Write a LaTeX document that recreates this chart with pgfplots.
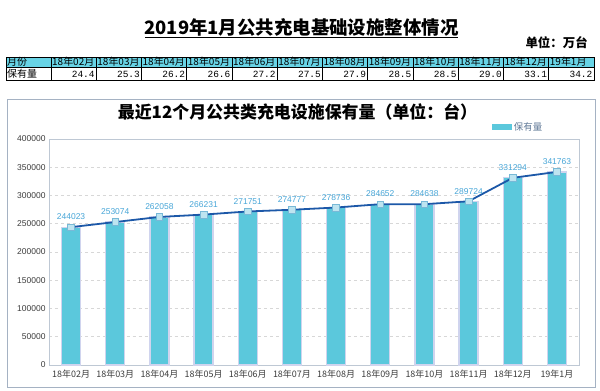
\documentclass[border=0pt]{standalone}
\usepackage{fontspec}
\setmainfont{Liberation Sans}
\newfontfamily\cjk{Noto Sans CJK SC}
\newfontfamily\mono{Liberation Mono}
\usepackage{pgfplots}
\pgfplotsset{compat=1.18}
\usepackage{pgfplotstable}

\definecolor{barcol}{RGB}{91,200,220}
\definecolor{baredge}{RGB}{208,212,238}
\definecolor{linecol}{RGB}{28,88,168}
\definecolor{labcol}{RGB}{70,165,215}
\definecolor{mkfill}{RGB}{190,228,240}
\definecolor{mkdraw}{RGB}{120,185,215}
\definecolor{hdrcol}{RGB}{104,212,230}
\definecolor{panelcol}{RGB}{165,178,195}
\definecolor{gridcol}{RGB}{215,215,215}
\definecolor{axiscol}{RGB}{190,200,212}
\definecolor{ticklab}{RGB}{60,60,60}
\definecolor{legtext}{RGB}{95,120,150}

\pgfplotstableread{
x y label
0 244023 244023
1 253074 253074
2 262058 262058
3 266231 266231
4 271751 271751
5 274777 274777
6 278736 278736
7 284652 284652
8 284638 284638
9 289724 289724
10 331294 331294
11 341763 341763
}\datatab

\begin{document}
\begin{tikzpicture}[x=1bp,y=1bp]
\useasboundingbox (0,0) rectangle (600,390);
% main title
\node[font=\cjk\bfseries\fontsize{18.5}{20}\selectfont, inner sep=0pt] at (301.5,363) {2019年1月公共充电基础设施整体情况};
\draw[line width=1.2bp] (145,352.5) -- (458,352.5);
\node[anchor=east, inner sep=0pt, font=\cjk\bfseries\fontsize{12.5}{14}\selectfont] at (588,347) {单位：万台};
% table
\fill[hdrcol] (6,322.5) rectangle (594,333);
\draw[line width=0.6bp] (6,309.5) rectangle (594,333);
\draw[line width=0.6bp] (6,322.5) -- (594,322.5);
\draw[line width=0.6bp] (51,309.5) -- (51,333);
\node[anchor=west, inner sep=1bp, font=\cjk\fontsize{10}{11}\selectfont] at (6,328) {月份};
\node[anchor=west, inner sep=1bp, font=\cjk\fontsize{10}{11}\selectfont] at (6,316) {保有量};
\foreach \i/\m/\v in {0/18年02月/24.4, 1/18年03月/25.3, 2/18年04月/26.2, 3/18年05月/26.6, 4/18年06月/27.2, 5/18年07月/27.5, 6/18年08月/27.9, 7/18年09月/28.5, 8/18年10月/28.5, 9/18年11月/29.0, 10/18年12月/33.1, 11/19年1月/34.2} {
  \pgfmathsetmacro\xl{51+\i*45.25}
  \pgfmathsetmacro\xr{51+(\i+1)*45.25}
  \draw[line width=0.6bp] (\xr,309.5) -- (\xr,333);
  \node[anchor=west, inner sep=1bp, font=\cjk\fontsize{10}{11}\selectfont] at (\xl,328) {\m};
  \node[anchor=east, inner sep=1.5bp, font=\mono\fontsize{9.5}{10}\selectfont] at (\xr,316) {\v};
}
% chart panel
\draw[panelcol, line width=1bp] (7,3) rectangle (595,291);
\node[font=\cjk\bfseries\fontsize{17}{19}\selectfont, inner sep=0pt] at (297.5,278) {最近12个月公共类充电设施保有量（单位：台）};
\begin{axis}[
  at={(49bp,25bp)}, anchor=south west,
  scale only axis, width=530bp, height=226bp,
  xmin=-0.5, xmax=11.5, ymin=0, ymax=400000,
  xtick={0,...,11},
  xticklabels={18年02月,18年03月,18年04月,18年05月,18年06月,18年07月,18年08月,18年09月,18年10月,18年11月,18年12月,19年1月},
  ytick={0,50000,...,400000},
  scaled y ticks=false,
  /pgf/number format/assume math mode=true,
  yticklabel style={/pgf/number format/fixed, /pgf/number format/1000 sep={}, font=\fontsize{8.5}{10}\selectfont, text=ticklab},
  xticklabel style={font=\cjk\fontsize{9}{10}\selectfont, text=ticklab, yshift=-1bp},
  ymajorgrids, grid style={dashed, gridcol, line width=0.6bp},
  axis line style={axiscol, line width=0.8bp},
  major tick length=0pt,
  clip=false,
  legend style={at={(0.885,1.053)}, anchor=center, draw=none, fill=none, font=\cjk\fontsize{9.5}{10}\selectfont, text=legtext, inner sep=0pt},
]
\addplot[ybar, bar width=19bp, fill=barcol, draw=baredge, line width=1.2bp,
  legend image code/.code={\fill[barcol] (0bp,-2bp) rectangle (19bp,2bp);}]
  table[x=x, y=y] {\datatab};
\addlegendentry{保有量}
\addplot[forget plot, sharp plot, linecol, line width=1.8bp, mark=square*, mark size=3.3bp,
  mark options={fill=mkfill, draw=mkdraw, line width=0.6bp},
  nodes near coords, point meta=explicit symbolic,
  every node near coord/.style={font=\fontsize{8.5}{10}\selectfont, text=labcol, anchor=south, yshift=3.5bp}]
  table[x=x, y=y, meta=label] {\datatab};
\end{axis}
\end{tikzpicture}
\end{document}
